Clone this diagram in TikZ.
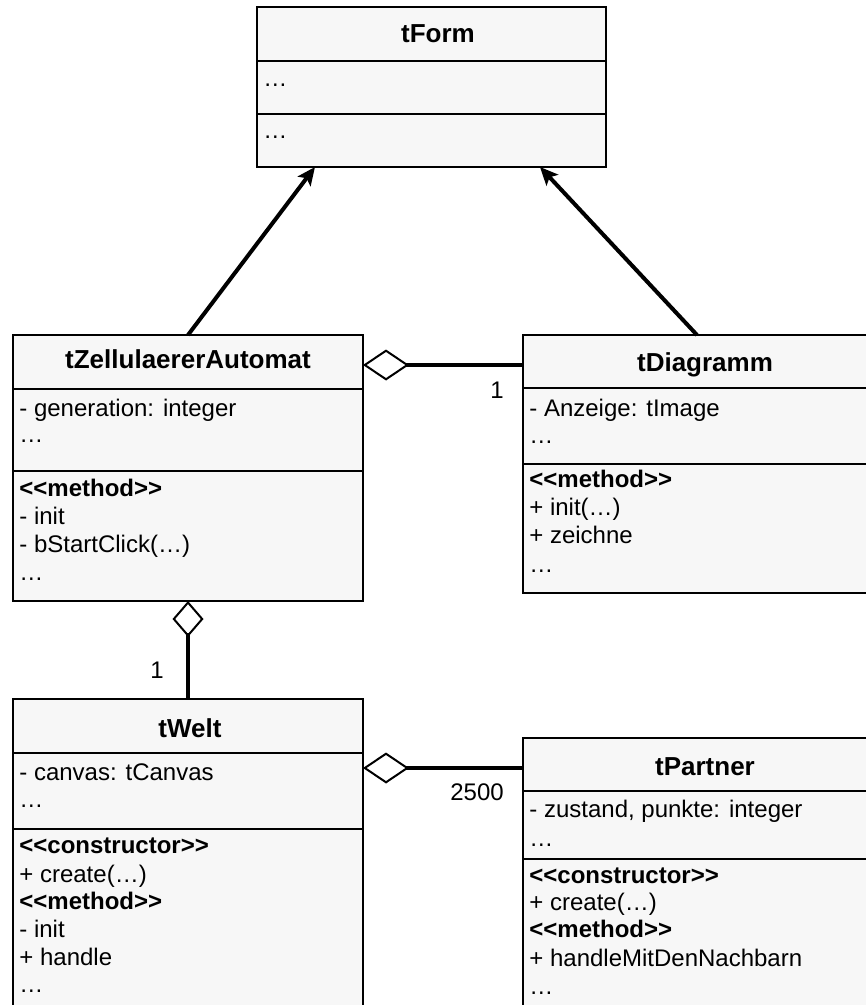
\documentclass[tikz,border=0pt]{standalone}
\usepackage{fontspec}
\setmainfont{Liberation Sans}
\usetikzlibrary{arrows.meta,calc}
\definecolor{boxfill}{HTML}{F7F7F7}
\begin{document}
\begin{tikzpicture}[x=0.5pt,y=-0.5pt,
  cls/.style={draw=black,line width=1pt,fill=boxfill,rectangle,inner sep=0pt,outer sep=0pt,anchor=north west},
  div/.style={draw=black,line width=1pt},
  ttl/.style={anchor=base,inner sep=0pt,font=\fontsize{13pt}{15.6pt}\selectfont\bfseries},
  txt/.style={anchor=base west,inner sep=0pt,font=\fontsize{12pt}{14.4pt}\selectfont},
  btxt/.style={txt,font=\fontsize{12pt}{14.4pt}\selectfont\bfseries},
  lbl/.style={anchor=base,inner sep=0pt,font=\fontsize{12pt}{14.4pt}\selectfont},
  gen/.style={line width=2pt,-{Stealth[length=9pt,width=8pt,inset=2pt]}},
  agg/.style={line width=2pt,{Diamond[open,length=23pt,width=15.5pt,line width=1pt]}-},
  aggv/.style={line width=2pt,{Diamond[open,length=18pt,width=15.5pt,line width=1pt]}-}
]
\useasboundingbox (0,0) rectangle (866,1005);

% ---------- tForm ----------
\node[cls,minimum width=174.5pt,minimum height=80pt] (form) at (257,7) {};
\draw[div] (form.west |- 0,61) -- (form.east |- 0,61);
\draw[div] (form.west |- 0,114) -- (form.east |- 0,114);
\node[ttl] (formT) at (438,43) {tForm};
\node[txt] (formA) at (263,87) {…};
\node[txt] (formM) at (263,139) {…};

% ---------- tZellulaererAutomat ----------
\node[cls,minimum width=175pt,minimum height=133pt] (zell) at (13,335) {};
\draw[div] (zell.west |- 0,389) -- (zell.east |- 0,389);
\draw[div] (zell.west |- 0,471) -- (zell.east |- 0,471);
\node[ttl] (zellT) at (188,368) {tZellulaererAutomat};
\node[txt] (zellA1) at (19,416) {- generation: integer};
\node[txt] (zellA2) at (19,442) {…};
\node[btxt] (zellM0) at (19,496) {{<}{<}method{>}{>}};
\node[txt] (zellM1) at (19,524) {- init};
\node[txt] (zellM2) at (19,552) {- bStartClick(…)};
\node[txt] (zellM3) at (19,580) {…};

% ---------- tDiagramm ----------
\node[cls,minimum width=182pt,minimum height=129pt] (dia) at (523,335) {};
\draw[div] (dia.west |- 0,388) -- (dia.east |- 0,388);
\draw[div] (dia.west |- 0,464) -- (dia.east |- 0,464);
\node[ttl] (diaT) at (705,371) {tDiagramm};
\node[txt] (diaA1) at (529,416) {- Anzeige: tImage};
\node[txt] (diaA2) at (529,443) {…};
\node[btxt] (diaM0) at (529,487) {{<}{<}method{>}{>}};
\node[txt] (diaM1) at (529,515) {+ init(…)};
\node[txt] (diaM2) at (529,543) {+ zeichne};
\node[txt] (diaM3) at (529,572) {…};

% ---------- tWelt ----------
\node[cls,minimum width=175pt,minimum height=161pt] (welt) at (13,699) {};
\draw[div] (welt.west |- 0,753) -- (welt.east |- 0,753);
\draw[div] (welt.west |- 0,829) -- (welt.east |- 0,829);
\node[ttl] (weltT) at (190,737) {tWelt};
\node[txt] (weltA1) at (19,780) {- canvas: tCanvas};
\node[txt] (weltA2) at (19,807) {…};
\node[btxt] (weltM0) at (19,853) {{<}{<}constructor{>}{>}};
\node[txt] (weltM1) at (19,882) {+ create(…)};
\node[btxt] (weltM2) at (19,909) {{<}{<}method{>}{>}};
\node[txt] (weltM3) at (19,937) {- init};
\node[txt] (weltM4) at (19,965) {+ handle};
\node[txt] (weltM5) at (19,992) {…};

% ---------- tPartner ----------
\node[cls,minimum width=182pt,minimum height=141pt] (part) at (523,738) {};
\draw[div] (part.west |- 0,791) -- (part.east |- 0,791);
\draw[div] (part.west |- 0,859) -- (part.east |- 0,859);
\node[ttl] (partT) at (705,775) {tPartner};
\node[txt] (partA1) at (529,817) {- zustand, punkte: integer};
\node[txt] (partA2) at (529,846) {…};
\node[btxt] (partM0) at (529,883) {{<}{<}constructor{>}{>}};
\node[txt] (partM1) at (529,910) {+ create(…)};
\node[btxt] (partM2) at (529,937) {{<}{<}method{>}{>}};
\node[txt] (partM3) at (529,966) {+ handleMitDenNachbarn};
\node[txt] (partM4) at (529,994) {…};

% ---------- connectors ----------
\draw[gen] (zell.north) -- ([xshift=29pt]form.south west);
\draw[gen] ([xshift=-4pt]dia.north) -- ([xshift=-33pt]form.south east);
\draw[agg] ([yshift=-15pt]zell.north east) -- ([yshift=-15pt]dia.north west);
\draw[aggv] (zell.south) -- (welt.north);
\draw[agg] ([yshift=-34.5pt]welt.north east) -- ([yshift=-15pt]part.north west);

% ---------- multiplicities ----------
\node[lbl] (mul1) at (497,398) {1};
\node[lbl] (mul2) at (157,678) {1};
\node[lbl] (mul3) at (477,800) {2500};
\end{tikzpicture}
\end{document}
